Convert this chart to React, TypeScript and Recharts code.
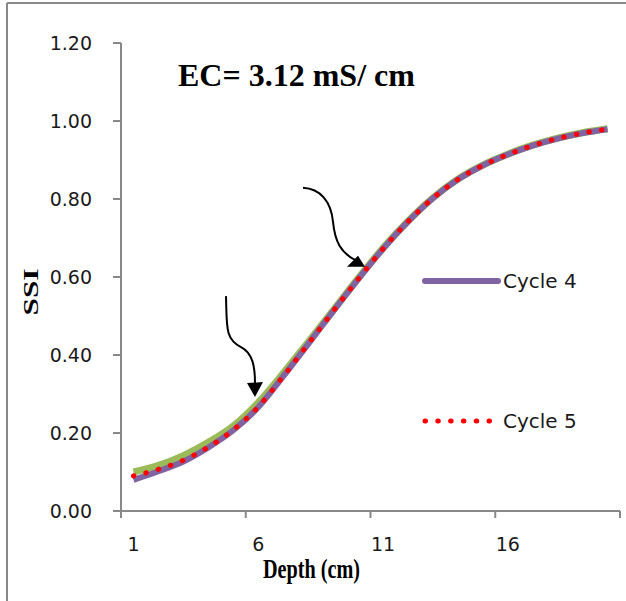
import React from "react";
import {
  LineChart,
  Line,
  XAxis,
  YAxis,
  Legend,
  ReferenceDot,
} from "recharts";

// depth categories (cm) and SSI per cycle
const depths = [1, 2, 3, 4, 5, 6, 7, 8, 9, 10, 11, 12, 13, 14, 15, 16, 17, 18, 19, 20];
const cycle3 = [0.1, 0.117, 0.142, 0.176, 0.218, 0.278, 0.353, 0.433, 0.514, 0.596, 0.674, 0.743, 0.803, 0.851, 0.887, 0.915, 0.938, 0.956, 0.97, 0.98];
const cycle4 = [0.08, 0.102, 0.127, 0.163, 0.207, 0.266, 0.345, 0.428, 0.512, 0.594, 0.672, 0.742, 0.802, 0.85, 0.886, 0.914, 0.937, 0.955, 0.969, 0.979];
const cycle5 = [0.09, 0.107, 0.13, 0.164, 0.208, 0.267, 0.345, 0.428, 0.512, 0.594, 0.672, 0.742, 0.802, 0.85, 0.886, 0.914, 0.937, 0.955, 0.969, 0.979];
const yTicks = [0, 0.2, 0.4, 0.6, 0.8, 1.0, 1.2];
const xTickBounds = [0.5, 5.5, 10.5, 15.5, 20.5];
// arrow tips (depth, SSI)
const arrowTips = [
  { depth: 5.87, ssi: 0.292 },
  { depth: 10.28, ssi: 0.626 },
];

const data = depths.map((d, i) => ({
  depth: d,
  c3: cycle3[i],
  c4: cycle4[i],
  c5: cycle5[i],
}));

const W = 626;
const H = 601;
const M = { top: 43, right: 6, bottom: 0, left: 0 };
const Y_W = 121;
const X_H = 90;
const plotW = W - Y_W - M.right;
const bw = plotW / depths.length;

const SANS = "'DejaVu Sans', sans-serif";
const SERIF = "'Liberation Serif', 'Times New Roman', serif";
const AXIS = "#888888";

function DepthTick(props: any) {
  const { x, y, payload } = props;
  const label = payload.value + 0.5;
  return (
    <g>
      <line x1={x} y1={y - 7} x2={x} y2={y} stroke={AXIS} strokeWidth={2} />
      {label <= 20 && (
        <text
          x={x + bw / 2}
          y={y + 26}
          textAnchor="middle"
          dominantBaseline="central"
          fontFamily={SANS}
          fontSize={19}
          fill="#1a1a1a"
        >
          {label}
        </text>
      )}
    </g>
  );
}

function Arrow1(props: any) {
  const { cx, cy } = props;
  return (
    <g transform={`translate(${cx},${cy})`}>
      <path d="M -29 -101 C -28 -70, -30 -58, -14 -50 C -2 -44, 0 -30, 0 -14" fill="none" stroke="#000" strokeWidth={2} />
      <polygon points="0,0 -8,-14 8,-15" fill="#000" />
    </g>
  );
}

function Arrow2(props: any) {
  const { cx, cy } = props;
  return (
    <g transform={`translate(${cx},${cy})`}>
      <path d="M -62 -79 C -45 -78, -34 -66, -32 -45 C -30 -25, -24 -14, -10 -7" fill="none" stroke="#000" strokeWidth={2} />
      <polygon points="0,0 -18,0 -7,-11" fill="#000" />
    </g>
  );
}

function LegendBox(props: any) {
  const items = (props.payload || []).filter((p: any) => p.type !== "none");
  return (
    <svg width={200} height={180}>
      {items.map((p: any, i: number) => {
        const y = 16 + i * 140;
        const dotted = p.dataKey === "c5";
        return (
          <g key={p.value}>
            <line
              x1={5}
              y1={y}
              x2={dotted ? 75 : 78}
              y2={y}
              stroke={p.color}
              strokeWidth={dotted ? 5 : 6}
              strokeLinecap="round"
              strokeDasharray={dotted ? "0.5 12.3" : undefined}
            />
            <text x={83} y={y} dominantBaseline="central" fontFamily={SANS} fontSize={20} fill="#1a1a1a">
              {p.value}
            </text>
          </g>
        );
      })}
    </svg>
  );
}

export default function App() {
  return (
    <div style={{ position: "absolute", left: 0, top: 0, width: W, height: H, overflow: "hidden", background: "#fff" }}>
      <LineChart width={W} height={H} data={data} margin={M}>
        <XAxis
          dataKey="depth"
          type="number"
          domain={[0.5, 20.5]}
          ticks={xTickBounds}
          interval={0}
          height={X_H}
          tickSize={7}
          tickMargin={0}
          tickLine={false}
          tick={<DepthTick />}
          axisLine={{ stroke: AXIS, strokeWidth: 2 }}
          label={{
            content: (p: any) => {
              const vb = p.viewBox;
              return (
                <text
                  x={vb.x + vb.width / 2 - 59}
                  y={578}
                  textAnchor="middle"
                  fontFamily={SERIF}
                  fontWeight="bold"
                  fontSize={27}
                  textLength={97}
                  lengthAdjust="spacingAndGlyphs"
                  fill="#000"
                >
                  Depth (cm)
                </text>
              );
            },
          }}
        />
        <YAxis
          type="number"
          domain={[0, 1.2]}
          ticks={yTicks}
          interval={0}
          width={Y_W}
          tickSize={8}
          tickMargin={21}
          tickFormatter={(v: number) => v.toFixed(2)}
          tick={{ fontFamily: SANS, fontSize: 19, fill: "#1a1a1a" }}
          tickLine={{ stroke: AXIS, strokeWidth: 2 }}
          axisLine={{ stroke: AXIS, strokeWidth: 2 }}
          label={{
            content: () => (
              <text
                x={38}
                y={292}
                transform="rotate(-90, 38, 292)"
                textAnchor="middle"
                fontFamily={SERIF}
                fontWeight="bold"
                fontSize={22}
                textLength={47}
                lengthAdjust="spacingAndGlyphs"
                fill="#000"
              >
                SSI
              </text>
            ),
          }}
        />
        <Legend
          layout="vertical"
          align="center"
          verticalAlign="middle"
          content={<LegendBox />}
          wrapperStyle={{ position: "absolute", left: 420, top: 265, width: 200, height: 180 }}
        />
        <Line
          type="monotone"
          dataKey="c3"
          name="Cycle 3"
          stroke="#9BBB59"
          strokeWidth={7}
          dot={false}
          legendType="none"
          isAnimationActive={false}
        />
        <Line
          type="monotone"
          dataKey="c4"
          name="Cycle 4"
          stroke="#8064A2"
          strokeWidth={6}
          dot={false}
          isAnimationActive={false}
        />
        <Line
          type="monotone"
          dataKey="c5"
          name="Cycle 5"
          stroke="#FF0000"
          strokeWidth={5}
          strokeLinecap="round"
          strokeDasharray="0.5 12.3"
          dot={false}
          isAnimationActive={false}
        />
        <ReferenceDot x={arrowTips[0].depth} y={arrowTips[0].ssi} r={0} ifOverflow="visible" shape={<Arrow1 />} />
        <ReferenceDot x={arrowTips[1].depth} y={arrowTips[1].ssi} r={0} ifOverflow="visible" shape={<Arrow2 />} />
      </LineChart>
      <svg width={W} height={H} style={{ position: "absolute", left: 0, top: 0, pointerEvents: "none" }}>
        <line x1={7} y1={3} x2={W} y2={3} stroke="#898989" strokeWidth={2} />
        <line x1={7} y1={3} x2={7} y2={H} stroke="#898989" strokeWidth={2} />
        <text x={178} y={86} fontFamily={SERIF} fontWeight="bold" fontSize={32} fill="#000">
          EC= 3.12 mS/ cm
        </text>
      </svg>
    </div>
  );
}
